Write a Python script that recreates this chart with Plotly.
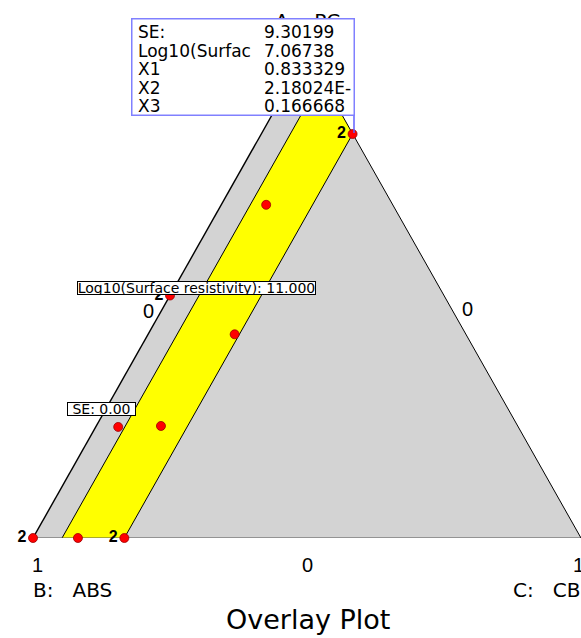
import plotly.graph_objects as go

# mixture fractions (A: PC on top, B: ABS bottom-left, C: CB bottom-right)
tri_a = [0, 0, 1, 0]
tri_c = [0, 1, 0, 0]

# region where the overlay criteria are met (yellow band)
ok_a = [0, 0, 0.833, 0.947]
ok_c = [0.053, 0.1667, 0.1667, 0.053]

# design points and replicate counts
pt_a = [0, 0, 0, 0.229, 0.231, 0.5, 0.42, 0.687, 0.833, 1.0]
pt_c = [0, 0.082, 0.1667, 0.041, 0.118, 0, 0.158, 0.082, 0.1667, 0]
pt_rep = ["2", "", "2", "", "", "2", "", "", "2", "2"]

# flag box contents
flag_names = ["SE:", "Log10(Surfac", "X1", "X2", "X3"]
flag_values = ["9.30199", "7.06738", "0.833329", "2.18024E-", "0.166668"]

W, H = 581, 638
L, R, T, B = 33, 0, 53, 100
SANS = "DejaVu Sans"
ARIAL = "Liberation Sans, Arial"
GAP = "&nbsp;&nbsp;&nbsp;"


def to_xy(a, c):
    # ternary -> plain x/y (b = 1 - a - c)
    return [ci + ai / 2 for ai, ci in zip(a, c)], list(a)


def px(x):
    return (x - L) / (W - L - R)


def py(y):
    return (H - B - y) / (H - B - T)


fig = go.Figure()

# whole simplex in light gray
tx, ty = to_xy(tri_a, tri_c)
fig.add_trace(go.Scatter(x=tx, y=ty, mode="lines", fill="toself", fillcolor="#D3D3D3",
                         line=dict(width=0), hoverinfo="skip", showlegend=False))

# yellow band
yx, yy = to_xy(ok_a, ok_c)
fig.add_trace(go.Scatter(x=yx + yx[:1], y=yy + yy[:1], mode="lines", fill="toself",
                         fillcolor="#FFFF00", line=dict(width=0), hoverinfo="skip",
                         showlegend=False))

# band borders (lines of constant C)
for i, j in [(0, 3), (1, 2)]:
    fig.add_trace(go.Scatter(x=[yx[i], yx[j]], y=[yy[i], yy[j]], mode="lines",
                             line=dict(color="black", width=1), hoverinfo="skip",
                             showlegend=False))

# triangle edges
edges = [((0, 2), "black", 1.4), ((0, 1), "#555555", 1.2), ((1, 2), "black", 1)]
for (i, j), col, w in edges:
    fig.add_trace(go.Scatter(x=[tx[i], tx[j]], y=[ty[i], ty[j]], mode="lines",
                             line=dict(color=col, width=w), hoverinfo="skip",
                             showlegend=False, cliponaxis=False))

# design points
dx, dy = to_xy(pt_a, pt_c)
fig.add_trace(go.Scatter(x=dx, y=dy, mode="markers+text", text=pt_rep,
                         textposition="middle left",
                         textfont=dict(family=ARIAL, size=16, color="black", weight="bold"),
                         marker=dict(size=9, color="#FF0000",
                                     line=dict(color="#990000", width=0.8)),
                         cliponaxis=False, showlegend=False))

ann = []


def label(x, y, text, size, family=SANS, xanchor="center", **kw):
    ann.append(dict(x=px(x), y=py(y), xref="paper", yref="paper", text=text,
                    showarrow=False, xanchor=xanchor, yanchor="middle",
                    font=dict(family=family, size=size, color="black"), **kw))


# vertex / tick labels
label(307, 21, "A:" + GAP + "PC", 20)
label(37, 565, "1", 20, ARIAL)
label(307, 565, "0", 20, ARIAL)
label(578, 565, "1", 20, ARIAL)
label(148, 311, "0", 20, ARIAL)
label(467, 309, "0", 20, ARIAL)
label(31, 590, "B:" + GAP + "ABS", 20, xanchor="left")
label(511, 590, "C:" + GAP + "CB", 20, xanchor="left")
label(308, 619, "Overlay Plot", 27)

# contour flags
label(196.5, 288, "Log10(Surface resistivity): 11.000", 14, bgcolor="white",
      bordercolor="black", borderwidth=1, borderpad=0, width=237, height=12)
label(101.5, 408.5, "SE: 0.00", 14, bgcolor="white",
      bordercolor="black", borderwidth=1, borderpad=0, width=67, height=12)

# selected point flag box
ann.append(dict(x=px(131), y=py(18), xref="paper", yref="paper", text=" ",
                showarrow=False, xanchor="left", yanchor="top", width=221, height=95,
                bgcolor="white", bordercolor="#8080FF", borderwidth=1.5, borderpad=0))
for k, (name, val) in enumerate(zip(flag_names, flag_values)):
    yk = 32 + 18.6 * k
    label(136, yk, name, 17, xanchor="left")
    label(262, yk, val, 17, xanchor="left")

fig.update_layout(
    width=W, height=H,
    margin=dict(l=L, r=R, t=T, b=B),
    paper_bgcolor="white", plot_bgcolor="white",
    xaxis=dict(range=[0, 1], visible=False, fixedrange=True),
    yaxis=dict(range=[0, 1], visible=False, fixedrange=True),
    annotations=ann,
    shapes=[dict(type="line", xref="paper", yref="paper",
                 x0=px(354), x1=px(354), y0=py(115), y1=py(133),
                 line=dict(color="#6060FF", width=1.5))],
)

# page body has a default 8px margin; drop it so the figure sits at the top-left corner
fig.write_html("out.html", config={"displayModeBar": False},
               post_script="document.body.style.margin = '0';")
